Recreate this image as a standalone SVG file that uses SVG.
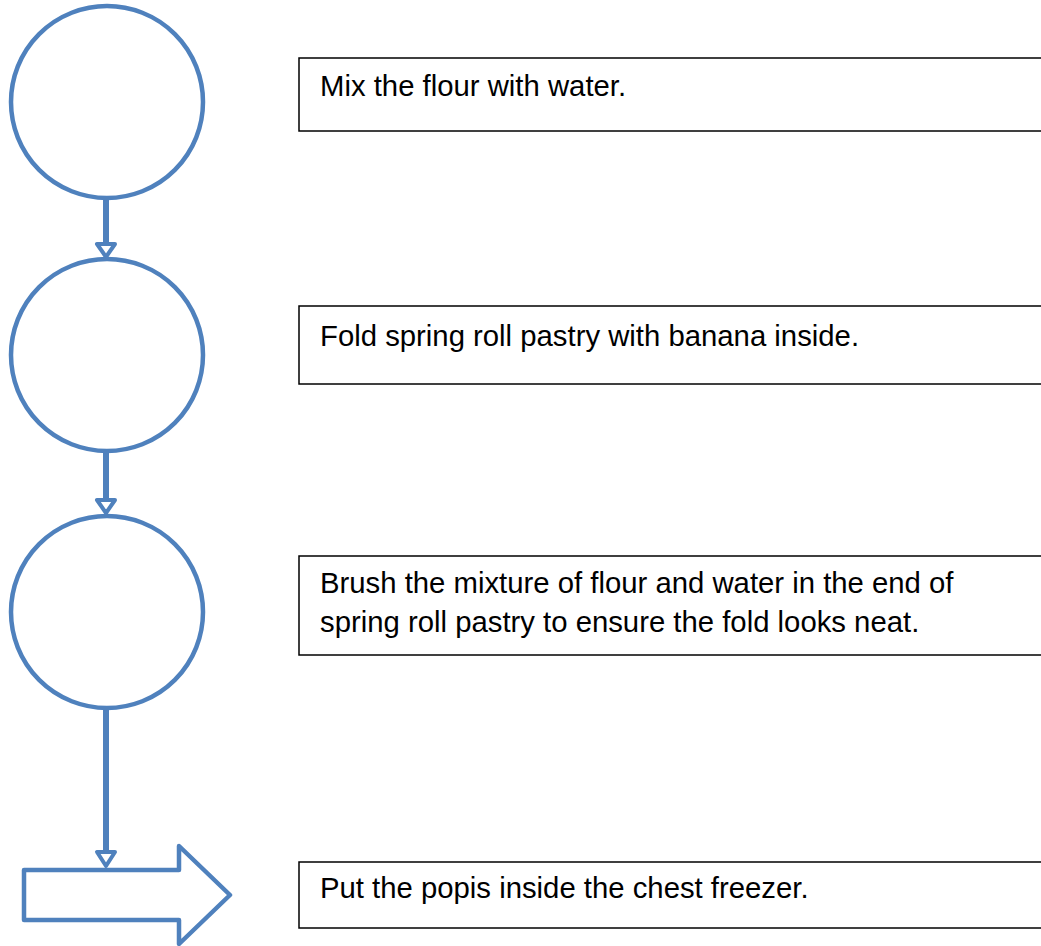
<svg xmlns="http://www.w3.org/2000/svg" width="1041" height="946" viewBox="0 0 1041 946">
<style>
.c{fill:#fff;stroke:#4f81bd;stroke-width:4.5}
.b{fill:#fff;stroke:#000;stroke-width:1.5}
.t{font-family:"Liberation Sans",Arial,sans-serif;font-size:29.3px;fill:#000}
.l{stroke:#4f81bd;stroke-width:6;fill:none}
.h{fill:#fff;stroke:#4f81bd;stroke-width:4;stroke-linejoin:round}
</style>
<rect width="1041" height="946" fill="#fff"/>
<g id="connectors">
<line class="l" x1="106" y1="199" x2="106" y2="244"/>
<polygon class="h" points="97,244 115,244 106,257"/>
<line class="l" x1="106" y1="452" x2="106" y2="500"/>
<polygon class="h" points="97,500 115,500 106,513"/>
<line class="l" x1="106" y1="708" x2="106" y2="852"/>
<polygon class="h" points="97,852 115,852 106,866"/>
</g>
<g id="circle1"><circle class="c" cx="107" cy="102" r="96"/></g>
<g id="circle2"><circle class="c" cx="107" cy="355" r="96"/></g>
<g id="circle3"><circle class="c" cx="107" cy="612" r="96"/></g>
<g id="blockArrow"><polygon class="c" stroke-linejoin="round" points="24,870 179,870 179,846 230,895 179,944 179,920 24,920"/></g>
<g id="box1"><rect class="b" x="299" y="58" width="760" height="73"/><text class="t" x="320" y="96">Mix the flour with water.</text></g>
<g id="box2"><rect class="b" x="299" y="306" width="760" height="78"/><text class="t" x="320" y="346">Fold spring roll pastry with banana inside.</text></g>
<g id="box3"><rect class="b" x="299" y="556" width="760" height="99"/><text class="t" x="320" y="593">Brush the mixture of flour and water in the end of</text><text class="t" x="320" y="632">spring roll pastry to ensure the fold looks neat.</text></g>
<g id="box4"><rect class="b" x="299" y="862" width="760" height="66"/><text class="t" x="320" y="898">Put the popis inside the chest freezer.</text></g>
</svg>
